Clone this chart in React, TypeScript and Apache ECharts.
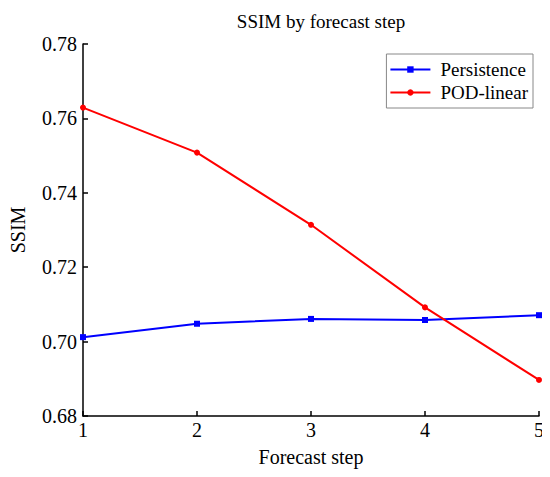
import React, { useEffect, useRef } from "react";
import * as echarts from "echarts";

const steps = [1, 2, 3, 4, 5];
const persistence = [0.7012, 0.7048, 0.7061, 0.7058, 0.7071];
const podLinear = [0.7629, 0.7508, 0.7314, 0.7092, 0.6897];
const seriesNames = ["Persistence", "POD-linear"];

const FONT = '"Liberation Serif", "Times New Roman", serif';

export default function App() {
  const ref = useRef<HTMLDivElement>(null);
  useEffect(() => {
    if (!ref.current) return;
    const chart = echarts.init(ref.current, undefined, { renderer: "svg" });
    chart.setOption({
      animation: false,
      backgroundColor: "#fff",
      textStyle: { fontFamily: FONT, color: "#000" },
      title: {
        text: "SSIM by forecast step",
        left: 316,
        textAlign: "center",
        top: 7,
        textStyle: { fontFamily: FONT, fontSize: 19, fontWeight: "normal", color: "#000" },
      },
      legend: {
        orient: "vertical",
        right: 17,
        top: 54,
        padding: [6, 5, 6, 3],
        itemWidth: 40,
        itemHeight: 8,
        itemGap: 4,
        borderColor: "#888",
        borderWidth: 1,
        borderRadius: 0,
        textStyle: { fontFamily: FONT, fontSize: 19, lineHeight: 19, color: "#000", padding: [0, 0, 0, 5] },
        data: seriesNames,
      },
      grid: { left: 76, right: 11, top: 44, bottom: 61, containLabel: false },
      xAxis: {
        type: "value",
        min: 1,
        max: 5,
        interval: 1,
        name: "Forecast step",
        nameLocation: "middle",
        nameGap: 31,
        nameTextStyle: { fontFamily: FONT, fontSize: 20, color: "#000" },
        axisLine: { show: true, lineStyle: { color: "#000", width: 1.5 } },
        axisTick: { show: true, inside: true, length: 5, lineStyle: { color: "#000", width: 1.5 } },
        axisLabel: { fontFamily: FONT, fontSize: 20, color: "#000", margin: 4 },
        splitLine: { show: false },
      },
      yAxis: {
        type: "value",
        min: 0.68,
        max: 0.78,
        interval: 0.02,
        name: "SSIM",
        nameLocation: "middle",
        nameGap: 55,
        nameRotate: 90,
        nameTextStyle: { fontFamily: FONT, fontSize: 20, color: "#000" },
        axisLine: { show: true, lineStyle: { color: "#000", width: 1.5 } },
        axisTick: { show: true, inside: true, length: 5, lineStyle: { color: "#000", width: 1.5 } },
        axisLabel: {
          fontFamily: FONT,
          fontSize: 20,
          color: "#000",
          margin: 6,
          formatter: (v: number) => v.toFixed(2),
        },
        splitLine: { show: false },
      },
      series: [
        {
          name: seriesNames[0],
          type: "line",
          data: steps.map((s, i) => [s, persistence[i]]),
          color: "#0000ff",
          symbol: "rect",
          symbolSize: 6,
          lineStyle: { color: "#0000ff", width: 2 },
          itemStyle: { color: "#0000ff" },
        },
        {
          name: seriesNames[1],
          type: "line",
          data: steps.map((s, i) => [s, podLinear[i]]),
          color: "#ff0000",
          symbol: "circle",
          symbolSize: 6,
          lineStyle: { color: "#ff0000", width: 2 },
          itemStyle: { color: "#ff0000" },
        },
      ],
    });
    return () => chart.dispose();
  }, []);
  return <div ref={ref} style={{ width: 550, height: 477, margin: -8 }} />;
}
